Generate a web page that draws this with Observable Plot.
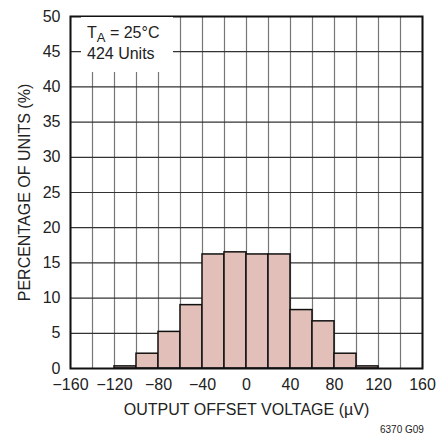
<!DOCTYPE html>
<html>
<head>
<meta charset="utf-8">
<script src="https://cdn.jsdelivr.net/npm/d3@7"></script>
<script src="https://cdn.jsdelivr.net/npm/@observablehq/plot@0.6"></script>
<style>
  html, body { margin: 0; padding: 0; background: #fff; }
  #wrap { position: relative; width: 448px; height: 436px; font-family: "Liberation Sans Narrow", "Arial Narrow", "Liberation Sans", sans-serif; }
  #note { position: absolute; left: 81px; top: 17px; width: 92px; height: 55px; background: #fff; font-size: 16px; color: #222; line-height: 21px; padding-left: 6px; box-sizing: border-box; padding-top: 5px; }
  #note sub { font-size: 13px; vertical-align: -4px; line-height: 0; }
  #code { position: absolute; left: 380px; top: 424px; font-size: 10px; color: #222; }
</style>
</head>
<body>
<div id="wrap">
  <div id="chart"></div>
  <div id="note">T<sub>A</sub> = 25°C<br>424 Units</div>
  <div id="code">6370 G09</div>
</div>
<script>
const binStart = [-120, -100, -80, -60, -40, -20, 0, 20, 40, 60, 80, 100];
const binWidth = 20;
const percent = [0.3, 2.1, 5.2, 9.0, 16.2, 16.5, 16.2, 16.2, 8.3, 6.7, 2.1, 0.3];
const xTicks = [-160, -120, -80, -40, 0, 40, 80, 120, 160];
const xGrid = d3.range(-160, 161, 20);
const yTicks = [0, 5, 10, 15, 20, 25, 30, 35, 40, 45, 50];

const bars = binStart.map((b, i) => ({x1: b, x2: b + binWidth, y: percent[i]}));

const chart = Plot.plot({
  width: 448,
  height: 436,
  marginLeft: 70,
  marginRight: 26,
  marginTop: 16,
  marginBottom: 68,
  style: {fontFamily: '"Liberation Sans Narrow", "Arial Narrow", "Liberation Sans", sans-serif', fontSize: "16px", color: "#222", background: "#fff"},
  x: {domain: [-160, 160]},
  y: {domain: [0, 50]},
  marks: [
    Plot.gridX(xGrid, {stroke: "#777", strokeOpacity: 1, strokeWidth: 1.2}),
    Plot.gridY(yTicks, {stroke: "#333", strokeOpacity: 1, strokeWidth: 1.2}),
    Plot.rectY(bars, {x1: "x1", x2: "x2", y: "y", fill: "#e2bfb8", stroke: "#111", strokeWidth: 1.5}),
    Plot.frame({stroke: "#111", strokeWidth: 2}),
    Plot.axisX(xTicks, {tickSize: 0, tickPadding: 10, fontSize: 16, label: "OUTPUT OFFSET VOLTAGE (µV)", labelAnchor: "center", labelOffset: 46, labelArrow: "none"}),
    Plot.axisY(yTicks, {tickSize: 0, tickPadding: 10, fontSize: 16, label: "PERCENTAGE OF UNITS (%)", labelAnchor: "center", labelOffset: 52, labelArrow: "none"})
  ]
});
document.getElementById("chart").appendChild(chart);
</script>
</body>
</html>
